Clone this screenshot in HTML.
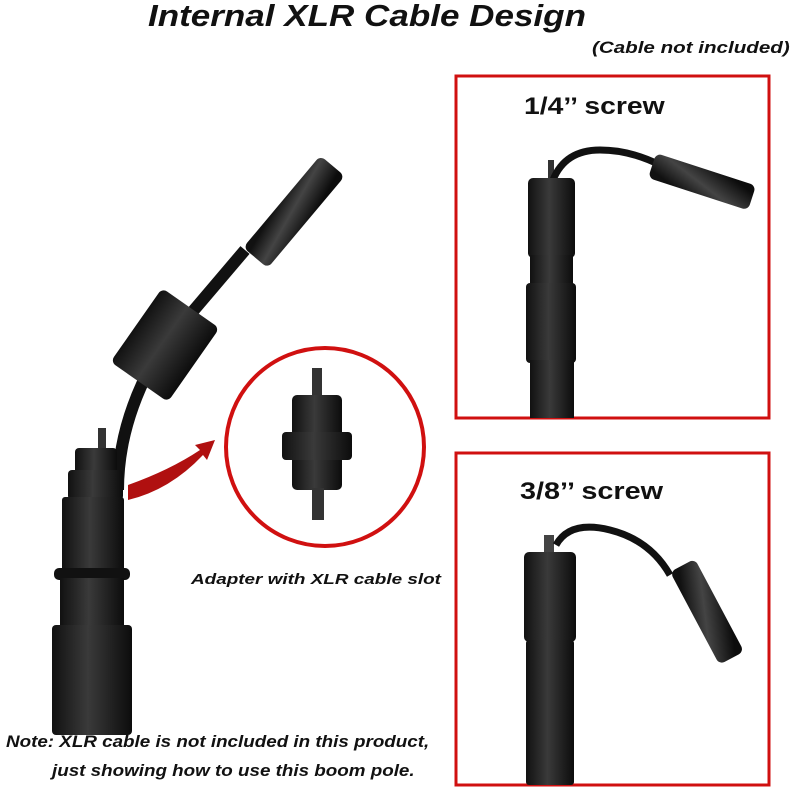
<!DOCTYPE html>
<html><head><meta charset="utf-8"><style>
html,body{margin:0;padding:0;background:#fff;}
body{width:800px;height:800px;position:relative;overflow:hidden;font-family:"Liberation Sans",sans-serif;}
.t{position:absolute;font-weight:bold;font-style:italic;color:#111;white-space:nowrap;transform-origin:0 0;}
</style></head><body>
<svg width="800" height="800" style="position:absolute;left:0;top:0">
<defs>
<linearGradient id="g" x1="0" x2="1"><stop offset="0" stop-color="#111"/><stop offset="0.45" stop-color="#3a3a3a"/><stop offset="1" stop-color="#0c0c0c"/></linearGradient>
<linearGradient id="ga" x1="0" x2="1" gradientTransform="rotate(-35 .5 .5)"><stop offset="0" stop-color="#111"/><stop offset="0.45" stop-color="#444"/><stop offset="1" stop-color="#0c0c0c"/></linearGradient>
</defs>
<rect x="456" y="76" width="313" height="342" fill="none" stroke="#d01010" stroke-width="3"/>
<rect x="456" y="453" width="313" height="332" fill="none" stroke="#d01010" stroke-width="3"/>
<ellipse cx="325" cy="447" rx="99" ry="99" fill="none" stroke="#d01010" stroke-width="4"/>
<rect x="312" y="368" width="10" height="30" fill="#333"/>
<rect x="292" y="395" width="50" height="95" rx="5" fill="url(#g)"/>
<rect x="282" y="432" width="70" height="28" rx="4" fill="url(#g)"/>
<rect x="312" y="488" width="12" height="32" fill="#333"/>
<!-- left pole cable -->
<path d="M118 490 Q118 420 160 350 L245 250" stroke="#111" stroke-width="12" fill="none"/>
<g transform="rotate(35 165 345)"><rect x="130" y="300" width="70" height="90" rx="6" fill="url(#g)"/></g>
<g transform="rotate(40 290 215)"><rect x="275" y="150" width="32" height="120" rx="6" fill="url(#ga)"/></g>
<rect x="98" y="428" width="8" height="22" fill="#333"/>
<rect x="75" y="448" width="42" height="40" rx="4" fill="url(#g)"/>
<rect x="68" y="470" width="55" height="30" rx="4" fill="url(#g)"/>
<rect x="62" y="497" width="62" height="80" rx="3" fill="url(#g)"/>
<rect x="54" y="568" width="76" height="12" rx="5" fill="#111"/>
<rect x="60" y="578" width="64" height="50" fill="url(#g)"/>
<rect x="52" y="625" width="80" height="110" rx="4" fill="url(#g)"/>
<path d="M128 485 Q170 470 200 450 L195 445 L215 440 L207 460 L203 455 Q170 490 128 500Z" fill="#b01010"/>
<!-- top right pole -->
<rect x="548" y="160" width="6" height="20" fill="#333"/>
<path d="M553 180 Q565 150 600 150 Q630 150 660 165" stroke="#111" stroke-width="7" fill="none"/>
<rect x="528" y="178" width="47" height="80" rx="5" fill="url(#g)"/>
<rect x="530" y="255" width="43" height="30" fill="url(#g)"/>
<rect x="526" y="283" width="50" height="80" rx="4" fill="url(#g)"/>
<rect x="530" y="360" width="44" height="58" fill="url(#g)"/>
<g transform="rotate(18 700 180)"><rect x="650" y="168" width="105" height="26" rx="6" fill="url(#ga)"/></g>
<!-- bottom right pole -->
<rect x="544" y="535" width="10" height="20" fill="#444"/>
<path d="M556 545 Q570 520 610 530 Q650 540 670 575" stroke="#111" stroke-width="7" fill="none"/>
<rect x="524" y="552" width="52" height="90" rx="5" fill="url(#g)"/>
<rect x="526" y="640" width="48" height="145" rx="3" fill="url(#g)"/>
<g transform="rotate(62 705 610)"><rect x="655" y="595" width="105" height="28" rx="6" fill="url(#ga)"/></g>
</svg>
<div class="t" style="left:148px;top:-2px;font-size:31px;transform:scaleX(1.13);">Internal XLR Cable Design</div>
<div class="t" style="left:592px;top:38px;font-size:17px;transform:scaleX(1.21);">(Cable not included)</div>
<div class="t" style="left:524px;top:93px;font-size:24px;font-style:normal;transform:scaleX(1.18);">1/4’’ screw</div>
<div class="t" style="left:520px;top:478px;font-size:24px;font-style:normal;transform:scaleX(1.2);">3/8’’ screw</div>
<div class="t" style="left:191px;top:571px;font-size:15px;transform:scaleX(1.26);">Adapter with XLR cable slot</div>
<div class="t" style="left:6px;top:733px;font-size:16.5px;transform:scaleX(1.14);">Note: XLR cable is not included in this product,</div>
<div class="t" style="left:52px;top:762px;font-size:16.5px;transform:scaleX(1.14);">just showing how to use this boom pole.</div>
</body></html>
